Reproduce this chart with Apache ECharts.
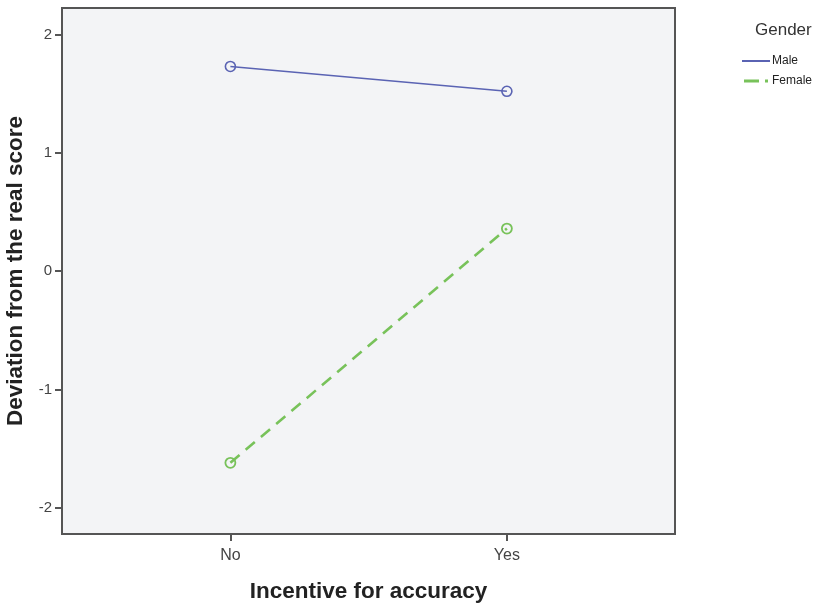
<!DOCTYPE html>
<html>
<head>
<meta charset="utf-8">
<script src="https://cdn.jsdelivr.net/npm/echarts@6/dist/echarts.min.js"></script>
<style>
  html, body { margin: 0; padding: 0; background: #ffffff; }
  #chart { width: 829px; height: 604px; }
</style>
</head>
<body>
<div id="chart"></div>
<script>
// Incentive categories on the x axis (positions 0 and 1)
const incentive = ['No', 'Yes'];
// Mean deviation from the real score, by gender
const maleValues = [1.73, 1.52];
const femaleValues = [-1.62, 0.36];
// Y tick values
const yTicks = [-2, -1, 0, 1, 2];

const FONT = '"Liberation Sans", Arial, sans-serif';
const MALE_COLOR = '#5a63b3';
const FEMALE_COLOR = '#78c25a';
const toPoints = vals => vals.map((v, i) => [i, v]);

const chart = echarts.init(document.getElementById('chart'), null, { renderer: 'canvas' });

chart.setOption({
  animation: false,
  backgroundColor: '#ffffff',
  title: {
    text: 'Gender',
    left: 750,
    top: 17,
    textStyle: { fontFamily: FONT, fontSize: 17, fontWeight: 'normal', color: '#333' }
  },
  legend: {
    left: 742,
    top: 55,
    padding: 0,
    orient: 'vertical',
    itemGap: 8,
    itemWidth: 28,
    itemHeight: 3,
    textStyle: { fontFamily: FONT, fontSize: 12, color: '#222', padding: [0, 0, 0, -3] },
    data: [
      {
        name: 'Male',
        icon: 'path://M0,0H28V2H0Z',
        itemStyle: { color: MALE_COLOR, borderWidth: 0 }
      },
      {
        name: 'Female',
        icon: 'path://M0,0H15V3H0Z M21,0H24V3H21Z',
        itemStyle: { color: FEMALE_COLOR, borderWidth: 0 }
      }
    ]
  },
  grid: {
    left: 62,
    top: 8,
    width: 613,
    height: 526,
    containLabel: false,
    outerBoundsMode: 'none',
    show: true,
    backgroundColor: '#f3f4f6',
    borderColor: '#555555',
    borderWidth: 2
  },
  xAxis: {
    type: 'value',
    min: -0.609,
    max: 1.608,
    splitLine: { show: false },
    axisLine: { show: true, onZero: false, lineStyle: { color: '#555555', width: 2 } },
    axisTick: { show: true, customValues: [0, 1], length: 7, lineStyle: { color: '#555555', width: 2 } },
    axisLabel: {
      customValues: [0, 1],
      formatter: v => incentive[Math.round(v)],
      margin: 14,
      fontFamily: FONT,
      fontSize: 16,
      color: '#444'
    },
    name: 'Incentive for accuracy',
    nameLocation: 'middle',
    nameGap: 46,
    nameTextStyle: { fontFamily: FONT, fontSize: 22.5, fontWeight: 'bold', color: '#222' }
  },
  yAxis: {
    type: 'value',
    min: -2.222,
    max: 2.224,
    splitLine: { show: false },
    axisLine: { show: true, onZero: false, lineStyle: { color: '#555555', width: 2 } },
    axisTick: { show: true, customValues: yTicks, length: 7, lineStyle: { color: '#555555', width: 2 } },
    axisLabel: {
      customValues: yTicks,
      margin: 10,
      fontFamily: FONT,
      fontSize: 15,
      color: '#444'
    },
    name: 'Deviation from the real score',
    nameLocation: 'middle',
    nameRotate: 90,
    nameGap: 30,
    nameTextStyle: { fontFamily: FONT, fontSize: 22.5, fontWeight: 'bold', color: '#222' }
  },
  series: [
    {
      name: 'Male',
      type: 'line',
      data: toPoints(maleValues),
      symbol: 'circle',
      symbolSize: 10,
      color: MALE_COLOR,
      lineStyle: { color: MALE_COLOR, width: 1.6 },
      itemStyle: { color: 'rgba(0,0,0,0)', borderColor: MALE_COLOR, borderWidth: 1.6 }
    },
    {
      name: 'Female',
      type: 'line',
      data: toPoints(femaleValues),
      symbol: 'circle',
      symbolSize: 10,
      color: FEMALE_COLOR,
      lineStyle: { color: FEMALE_COLOR, width: 2.6, type: [12, 8] },
      itemStyle: { color: 'rgba(0,0,0,0)', borderColor: FEMALE_COLOR, borderWidth: 1.8 }
    }
  ]
});
</script>
</body>
</html>
